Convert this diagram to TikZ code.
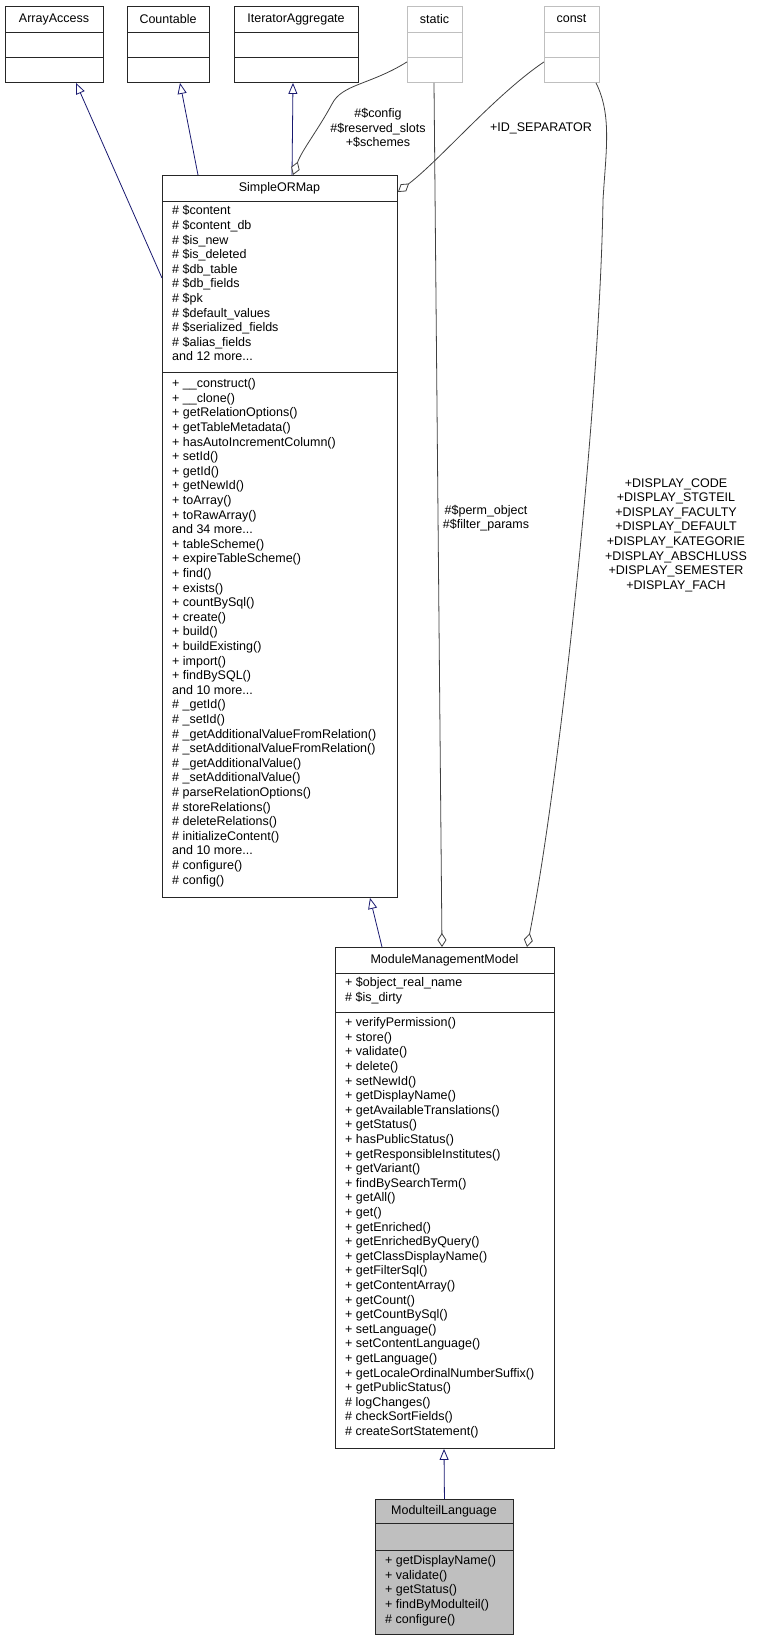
\documentclass[tikz,border=0pt]{standalone}
\usepackage{fontspec}
\setmainfont{Liberation Sans}
\usetikzlibrary{arrows.meta, calc, positioning}
\definecolor{inhblue}{HTML}{191970}
\definecolor{aggray}{HTML}{404040}
\definecolor{mlgray}{HTML}{BFBFBF}
\tikzset{
    umlbox/.style={draw=black!85, line width=0.9pt, rectangle, inner sep=0pt, anchor=north west},
    ghostbox/.style={umlbox, draw=black!25},
    members/.style={anchor=north west, inner sep=0pt, align=left, font=\fontsize{12.5}{14.6}\selectfont},
    edgelabel/.style={inner sep=0pt, align=center, font=\fontsize{12.5}{14.6}\selectfont},
    inherit/.style={draw=inhblue, line width=0.8pt, -{Triangle[open, length=11pt, width=9pt, fill=white]}},
    aggreg/.style={draw=aggray, line width=0.8pt, -{Diamond[open, length=14pt, width=9pt, fill=white]}}
}
% class box: name, x, y, width, height, first divider, second divider, style, title
\newcommand{\umlclass}[9]{%
    \node[#8, minimum width=#4pt, minimum height=#5pt] (#1) at (#2,#3) {};
    \draw[#8] ($(#1.north west)+(0,#6)$) -- ++(#4,0);
    \draw[#8] ($(#1.north west)+(0,#7)$) -- ++(#4,0);
    \node[edgelabel] at ($(#1.north west)+(#4/2,#6/2)$) {#9};
}
\begin{document}
\begin{tikzpicture}[x=1pt, y=-1pt]
\useasboundingbox (0,0) rectangle (761,1640);

% interfaces and stereotypes
\umlclass{arrayaccess}{5}{6}{98}{76}{26}{51}{umlbox}{ArrayAccess}
\umlclass{countable}{127}{6}{82}{76}{26}{51}{umlbox}{Countable}
\umlclass{iteragg}{234}{6}{124}{76}{26}{51}{umlbox}{IteratorAggregate}
\umlclass{static}{407}{6}{55}{76}{26}{51}{ghostbox}{static}
\umlclass{const}{544}{6}{55}{76}{26}{51}{ghostbox}{const}

% SimpleORMap
\umlclass{sorm}{162}{175}{235}{722}{26}{197}{umlbox}{SimpleORMap}
\node[members] (sormattr) at ($(sorm.north west)+(10,30.5)$) {%
\# \$content\\ \# \$content\_db\\ \# \$is\_new\\ \# \$is\_deleted\\ \# \$db\_table\\
\# \$db\_fields\\ \# \$pk\\ \# \$default\_values\\ \# \$serialized\_fields\\
\# \$alias\_fields\\ and 12 more...};
\node[members] (sormops) at ($(sorm.north west)+(10,203.5)$) {%
+ \_\_construct()\\ + \_\_clone()\\ + getRelationOptions()\\ + getTableMetadata()\\
+ hasAutoIncrementColumn()\\ + setId()\\ + getId()\\ + getNewId()\\ + toArray()\\
+ toRawArray()\\ and 34 more...\\ + tableScheme()\\ + expireTableScheme()\\ + find()\\
+ exists()\\ + countBySql()\\ + create()\\ + build()\\ + buildExisting()\\ + import()\\
+ findBySQL()\\ and 10 more...\\ \# \_getId()\\ \# \_setId()\\
\# \_getAdditionalValueFromRelation()\\ \# \_setAdditionalValueFromRelation()\\
\# \_getAdditionalValue()\\ \# \_setAdditionalValue()\\ \# parseRelationOptions()\\
\# storeRelations()\\ \# deleteRelations()\\ \# initializeContent()\\ and 10 more...\\
\# configure()\\ \# config()};

% ModuleManagementModel
\umlclass{mmm}{335}{947}{219}{501}{26}{65}{umlbox}{ModuleManagementModel}
\node[members] (mmmattr) at ($(mmm.north west)+(10,30.5)$) {%
+ \$object\_real\_name\\ \# \$is\_dirty};
\node[members] (mmmops) at ($(mmm.north west)+(10,70.5)$) {%
+ verifyPermission()\\ + store()\\ + validate()\\ + delete()\\ + setNewId()\\
+ getDisplayName()\\ + getAvailableTranslations()\\ + getStatus()\\ + hasPublicStatus()\\
+ getResponsibleInstitutes()\\ + getVariant()\\ + findBySearchTerm()\\ + getAll()\\
+ get()\\ + getEnriched()\\ + getEnrichedByQuery()\\ + getClassDisplayName()\\
+ getFilterSql()\\ + getContentArray()\\ + getCount()\\ + getCountBySql()\\
+ setLanguage()\\ + setContentLanguage()\\ + getLanguage()\\
+ getLocaleOrdinalNumberSuffix()\\ + getPublicStatus()\\ \# logChanges()\\
\# checkSortFields()\\ \# createSortStatement()};

% ModulteilLanguage
\node[umlbox, fill=mlgray, minimum width=138pt, minimum height=135pt] (ml) at (375,1499) {};
\draw[umlbox] ($(ml.north west)+(0,24)$) -- ++(138,0);
\draw[umlbox] ($(ml.north west)+(0,51)$) -- ++(138,0);
\node[edgelabel] at ($(ml.north west)+(69,12)$) {ModulteilLanguage};
\node[members] (mlops) at ($(ml.north west)+(10,56.5)$) {%
+ getDisplayName()\\ + validate()\\ + getStatus()\\ + findByModulteil()\\ \# configure()};

% inheritance
\draw[inherit] ($(sorm.north west)+(0,103)$) -- ($(arrayaccess.south west)+(71,0)$);
\draw[inherit] ($(sorm.north west)+(36,0)$) -- ($(countable.south west)+(53,0)$);
\draw[inherit] ($(sorm.north west)+(130,0)$) -- ($(iteragg.south west)+(59,0)$);
\draw[inherit] ($(mmm.north west)+(47,0)$) -- ($(sorm.south west)+(208,0)$);
\draw[inherit] (ml.north) -- ($(mmm.south west)+(109,0)$);

% aggregation
\draw[aggreg] ($(static.south west)+(0,-21)$) .. controls (370,85) and (342,84) .. (332,104)
    .. controls (318,130) and (302,150) .. ($(sorm.north west)+(131,0)$);
\draw[aggreg] ($(const.south west)+(0,-21)$) .. controls (495,95) and (440,160) .. ($(sorm.north east)+(0,17)$);
\draw[aggreg] ($(static.south west)+(27,0)$) -- ($(mmm.north west)+(107,0)$);
\draw[aggreg] ($(const.south west)+(52,0)$) .. controls (612,115) and (606,150) .. (603,200)
    .. controls (600,400) and (560,780) .. ($(mmm.north west)+(192,0)$);

% labels
\node[edgelabel] (lblconfig) at (378,128) {\#\$config\\ \#\$reserved\_slots\\ +\$schemes};
\node[edgelabel] (lblsep) at (541,128) {+ID\_SEPARATOR};
\node[edgelabel] (lblperm) at (486,518) {\#\$perm\_object\\ \#\$filter\_params};
\node[edgelabel] (lbldisplay) at (676,535) {+DISPLAY\_CODE\\ +DISPLAY\_STGTEIL\\
+DISPLAY\_FACULTY\\ +DISPLAY\_DEFAULT\\ +DISPLAY\_KATEGORIE\\ +DISPLAY\_ABSCHLUSS\\
+DISPLAY\_SEMESTER\\ +DISPLAY\_FACH};
\end{tikzpicture}
\end{document}
